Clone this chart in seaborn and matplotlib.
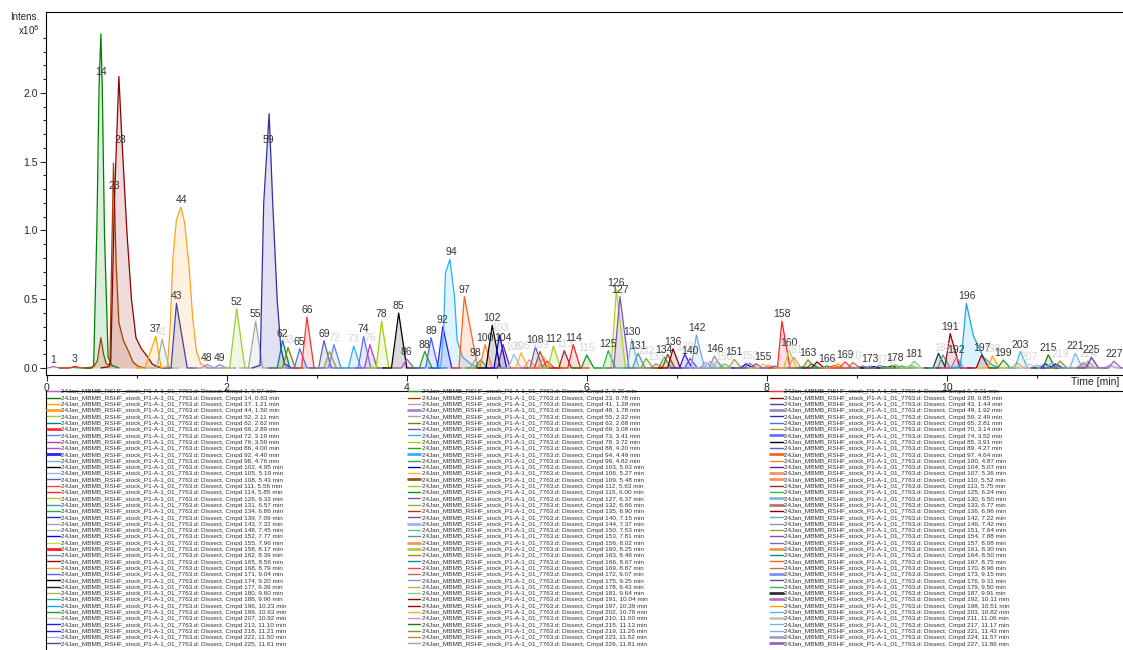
import numpy as np
import pandas as pd
import matplotlib
matplotlib.use("Agg")
import matplotlib.pyplot as plt
from matplotlib.lines import Line2D
import seaborn as sns

# compounds in the dissect result: number, retention time (min), apex intensity (x10^6), colour
cmpd = [1, 2, 3, 14, 23, 28, 37, 41, 43, 44,
        48, 49, 52, 55, 59, 62, 63, 65, 66, 69,
        70, 72, 73, 74, 76, 78, 85, 86, 88, 89,
        92, 94, 97, 98, 99, 100, 102, 103, 104, 105,
        106, 107, 108, 109, 110, 111, 112, 113, 114, 115,
        125, 126, 127, 130, 131, 132, 133, 134, 135, 136,
        139, 140, 142, 143, 144, 146, 148, 150, 151, 152,
        153, 154, 155, 156, 157, 158, 160, 161, 162, 163,
        164, 165, 166, 167, 168, 169, 170, 171, 172, 173,
        174, 175, 176, 177, 178, 179, 180, 181, 187, 188,
        191, 192, 196, 197, 198, 199, 202, 203, 207, 210,
        211, 213, 215, 217, 218, 219, 221, 222, 223, 224,
        225, 226, 227]
rt = [0.07, 0.29, 0.31, 0.63, 0.78, 0.85, 1.21, 1.28, 1.44, 1.50,
      1.78, 1.92, 2.11, 2.32, 2.49, 2.62, 2.68, 2.81, 2.89, 3.08,
      3.14, 3.19, 3.41, 3.52, 3.59, 3.72, 3.91, 4.00, 4.20, 4.27,
      4.40, 4.49, 4.64, 4.76, 4.82, 4.87, 4.95, 5.03, 5.07, 5.19,
      5.27, 5.36, 5.43, 5.48, 5.52, 5.56, 5.63, 5.75, 5.85, 6.00,
      6.24, 6.33, 6.37, 6.50, 6.57, 6.66, 6.77, 6.86, 6.90, 6.96,
      7.09, 7.15, 7.22, 7.32, 7.37, 7.42, 7.45, 7.53, 7.64, 7.77,
      7.81, 7.88, 7.96, 8.02, 8.08, 8.17, 8.25, 8.30, 8.39, 8.46,
      8.50, 8.56, 8.67, 8.75, 8.79, 8.87, 8.96, 9.04, 9.07, 9.15,
      9.20, 9.25, 9.31, 9.39, 9.43, 9.50, 9.60, 9.64, 9.91, 9.96,
      10.04, 10.11, 10.23, 10.39, 10.51, 10.63, 10.78, 10.82, 10.92, 11.00,
      11.06, 11.10, 11.13, 11.17, 11.21, 11.26, 11.43, 11.50, 11.52, 11.57,
      11.61, 11.81, 11.86]
apex = [0.01, 0.005, 0.012, 2.43, 1.49, 2.12, 0.23, 0.21, 0.47, 1.17,
        0.025, 0.025, 0.43, 0.34, 1.85, 0.20, 0.15, 0.14, 0.37, 0.20,
        0.12, 0.17, 0.16, 0.23, 0.17, 0.34, 0.40, 0.065, 0.12, 0.22,
        0.30, 0.79, 0.52, 0.06, 0.06, 0.17, 0.31, 0.24, 0.17, 0.10,
        0.11, 0.06, 0.155, 0.12, 0.08, 0.05, 0.16, 0.126, 0.17, 0.095,
        0.126, 0.57, 0.52, 0.21, 0.107, 0.07, 0.03, 0.08, 0.10, 0.14,
        0.10, 0.07, 0.24, 0.04, 0.05, 0.087, 0.05, 0.03, 0.063, 0.03,
        0.035, 0.03, 0.03, 0.02, 0.015, 0.34, 0.13, 0.08, 0.01, 0.06,
        0.03, 0.045, 0.015, 0.02, 0.03, 0.045, 0.04, 0.01, 0.015, 0.015,
        0.01, 0.02, 0.01, 0.015, 0.025, 0.015, 0.02, 0.05, 0.107, 0.095,
        0.25, 0.08, 0.47, 0.095, 0.087, 0.058, 0.04, 0.12, 0.03, 0.02,
        0.03, 0.03, 0.095, 0.04, 0.03, 0.05, 0.107, 0.03, 0.04, 0.05,
        0.078, 0.02, 0.05]
colors = ["#c060c0", "#20a020", "#ff3030", "#008000", "#a04000", "#900000", "#ffa500", "#a0b0a0", "#4040b0", "#ffa020",
          "#b080d0", "#9090c0", "#9acd32", "#a0a8a0", "#3030a0", "#008080", "#808000", "#4070ff", "#ff3030", "#6060b0",
          "#a0a040", "#6080ff", "#30b0f0", "#6070ff", "#b040b0", "#a0d000", "#000000", "#b050c0", "#20a020", "#4060ff",
          "#2020ff", "#30b0f0", "#ff6020", "#80b0d0", "#40a040", "#ff8020", "#000000", "#0000e0", "#6020a0", "#90c0e0",
          "#ffb040", "#ff9060", "#6060b0", "#a05020", "#ff9060", "#ff4040", "#a0d020", "#a02020", "#ff2020", "#109010",
          "#20c040", "#b0d020", "#8050c0", "#80b8e0", "#40a0a0", "#a0a040", "#c07070", "#20b040", "#a04000", "#800000",
          "#2020ff", "#8040c0", "#70a8e0", "#a0a0c8", "#a0b0ff", "#9090b0", "#a0b0a0", "#60c080", "#a0a040", "#0000ff",
          "#808080", "#a040a0", "#c0e040", "#ff9060", "#7070c0", "#ff2020", "#b0d040", "#ff9050", "#8080a0", "#909000",
          "#009080", "#a00000", "#009090", "#ff6020", "#ffa020", "#ff4040", "#c07040", "#6060ff", "#b07050", "#8090f0",
          "#000000", "#70a0d0", "#605090", "#202020", "#a0c040", "#40b060", "#b0b060", "#80d090", "#303030", "#40a0a0",
          "#900000", "#c070c0", "#10a8e8", "#900000", "#ffa000", "#20a020", "#ffb030", "#40b8f0", "#c0d0c0", "#d090d0",
          "#c0c8c0", "#2020ff", "#108010", "#80b0e0", "#2020e0", "#909020", "#80b0e0", "#b0b0d0", "#c08060", "#a0a0c8",
          "#6040a0", "#a0a0e0", "#a060c0"]

# traced outlines of the big peaks (time, intensity x10^6)
t14 = [0.42, 0.50, 0.52, 0.555, 0.58, 0.60, 0.615, 0.64, 0.68, 0.72, 0.80]
y14 = [0, 0, 0.02, 1.0, 2.05, 2.43, 2.05, 0.98, 0.08, 0.02, 0]
t23 = [0.45, 0.52, 0.56, 0.60, 0.63, 0.66, 0.70, 0.72, 0.74, 0.77, 0.80, 0.85, 0.90, 0.96, 1.02, 1.10]
y23 = [0, 0.01, 0.05, 0.22, 0.10, 0.03, 0.02, 0.8, 1.49, 0.75, 0.33, 0.2, 0.13, 0.04, 0.01, 0]
t28 = [0.60, 0.69, 0.71, 0.75, 0.80, 0.83, 0.89, 0.94, 0.99, 1.05, 1.12, 1.17, 1.22, 1.30]
y28 = [0, 0.01, 0.05, 1.2, 2.12, 1.71, 0.98, 0.5, 0.22, 0.14, 0.08, 0.03, 0.01, 0]
t44 = [1.26, 1.34, 1.37, 1.40, 1.44, 1.49, 1.53, 1.58, 1.62, 1.66, 1.71, 1.80]
y44 = [0, 0.01, 0.3, 0.79, 1.08, 1.17, 1.06, 0.74, 0.37, 0.13, 0.03, 0]
t59 = [2.28, 2.37, 2.41, 2.47, 2.51, 2.56, 2.60, 2.64, 2.72]
y59 = [0, 0.02, 1.2, 1.85, 1.2, 0.49, 0.15, 0.03, 0]
t94 = [4.30, 4.38, 4.41, 4.43, 4.48, 4.53, 4.56, 4.62, 4.71, 4.80]
y94 = [0, 0.02, 0.28, 0.69, 0.79, 0.52, 0.2, 0.08, 0.03, 0]
t196 = [10.05, 10.15, 10.17, 10.22, 10.30, 10.41, 10.51, 10.60]
y196 = [0, 0.01, 0.11, 0.47, 0.23, 0.08, 0.02, 0]
profiles = {14: (t14, y14), 23: (t23, y23), 28: (t28, y28), 44: (t44, y44),
            59: (t59, y59), 94: (t94, y94), 196: (t196, y196)}

# peak half widths at the base (left, right) where they differ from a plain narrow peak
widths = {37: (0.12, 0.06), 43: (0.06, 0.12), 52: (0.08, 0.09), 55: (0.08, 0.08),
          97: (0.06, 0.15), 126: (0.06, 0.1), 127: (0.07, 0.1), 85: (0.08, 0.09),
          158: (0.05, 0.09), 191: (0.06, 0.11), 102: (0.07, 0.09), 78: (0.06, 0.08),
          66: (0.06, 0.08), 92: (0.06, 0.1), 130: (0.05, 0.08), 142: (0.06, 0.09)}

dark_labels = [1, 3, 14, 23, 28, 37, 43, 44, 48, 49, 52, 55, 59, 62, 65, 66, 69, 74, 78, 85,
               86, 88, 89, 92, 94, 97, 98, 100, 102, 104, 108, 112, 114, 125, 126, 127, 130,
               131, 134, 136, 140, 142, 146, 151, 155, 158, 160, 163, 166, 169, 173, 178,
               181, 191, 192, 196, 197, 199, 203, 215, 221, 225, 227]
faded_labels = [41, 63, 72, 73, 76, 103, 105, 106, 109, 113, 115, 132, 133, 139, 150, 153,
                161, 170, 176, 188, 198, 207, 219, 224]
label_y = {14: 2.15, 23: 1.32, 28: 1.66, 59: 1.66}
thick_legend = [44, 66, 92, 158, 48, 94, 109, 144, 156, 160, 49, 74, 97, 107, 110, 130,
                133, 161, 173, 187, 192, 211, 224, 227]

# build long table of traces
rows = []
for n, r, h in zip(cmpd, rt, apex):
    if n in profiles:
        ts, ys = profiles[n]
    else:
        wl, wr = widths.get(n, (0.06, 0.08))
        ts = [r - wl - 0.1, r - wl, r, r + wr, r + wr + 0.1]
        ys = [0, 0, h, 0, 0]
    for t, y in zip(ts, ys):
        rows.append((n, t, y))
df = pd.DataFrame(rows, columns=["cmpd", "time", "intensity"])
palette = dict(zip(cmpd, colors))

sns.set_style("ticks")
plt.rcParams['font.family'] = ['Liberation Sans', 'DejaVu Sans']

fig = plt.figure(figsize=(11.23, 6.5), dpi=100)
ax = fig.add_axes([46 / 1123, 1 - 375 / 650, 1085 / 1123, 363 / 650])

for n in cmpd:
    g = df[df.cmpd == n]
    ax.fill_between(g.time, g.intensity, color=palette[n], alpha=0.14, lw=0, zorder=1)

sns.lineplot(data=df, x="time", y="intensity", hue="cmpd", hue_order=cmpd, palette=palette,
             estimator=None, sort=False, legend=False, linewidth=0.9, ax=ax, zorder=2)

for n, r, h in zip(cmpd, rt, apex):
    if n in dark_labels or n in faded_labels:
        col = "#333333" if n in dark_labels else "#d4d4d4"
        if n in label_y:
            ax.text(r - 0.03, label_y[n], str(n), ha="center", va="center", fontsize=7.5, color=col, zorder=5)
        else:
            ax.annotate(str(n), (r, h), xytext=(0, 5), textcoords="offset points",
                        ha="center", va="center", fontsize=7.5, color=col, zorder=5)

ax.set_xlim(-0.01, 12.05)
ax.set_ylim(-0.051, 2.589)
ax.set_xticks([0, 2, 4, 6, 8, 10])
ax.set_xticks(np.arange(1, 12, 2), minor=True)
ax.set_yticks([0, 0.5, 1.0, 1.5, 2.0])
ax.set_yticks(np.arange(0, 2.5, 0.1), minor=True)
ax.set_yticklabels(["0.0", "0.5", "1.0", "1.5", "2.0"])
ax.tick_params(axis="both", which="major", direction="out", length=4, width=0.8, labelsize=7.5, pad=2)
ax.tick_params(axis="both", which="minor", direction="out", length=2.5, width=0.8)
ax.set_xlabel("")
ax.set_ylabel("")
for s in ax.spines.values():
    s.set_visible(True)
    s.set_linewidth(0.8)
    s.set_color("black")

fig.text(10 / 1123, 1 - 17 / 650, "Intens.", fontsize=7, va="center", ha="left")
fig.text(18 / 1123, 1 - 30 / 650, r"x10$^6$", fontsize=7, va="center", ha="left")
fig.text(1071 / 1123, 1 - 382 / 650, "Time [min]", fontsize=7.5, va="center", ha="left")

# legend box below the trace panel
lax = fig.add_axes([46 / 1123, -0.02, 1.0, (650 - 391) / 650 + 0.02])
lax.set_xticks([])
lax.set_yticks([])
lax.set_facecolor("none")
for s in lax.spines.values():
    s.set_linewidth(0.8)
    s.set_color("black")

fmt = "24Jan_MBMB_RSHF_stock_P1-A-1_01_7763.d: Dissect, Cmpd {}, {:.2f} min"
entries = sorted(zip(cmpd, rt, colors))
col_x = [47, 407.5, 770]
legends = []
for k in range(3):
    sub = entries[k::3]
    handles = [Line2D([], [], color=c, lw=2.0 if n in thick_legend else 1.0) for n, r, c in sub]
    labels = [fmt.format(n, r) for n, r, c in sub]
    leg = lax.legend(handles, labels, loc="upper left", bbox_to_anchor=(col_x[k] / 1123, 1 - 389 / 650),
                     bbox_transform=fig.transFigure, frameon=False, fontsize=4.6, borderpad=0,
                     borderaxespad=0, handlelength=2.0, handletextpad=0.25, labelspacing=0.13)
    for t in leg.get_texts():
        t.set_color("#333333")
    legends.append(leg)
for leg in legends[:-1]:
    lax.add_artist(leg)

fig.savefig("out.png", dpi=100)
